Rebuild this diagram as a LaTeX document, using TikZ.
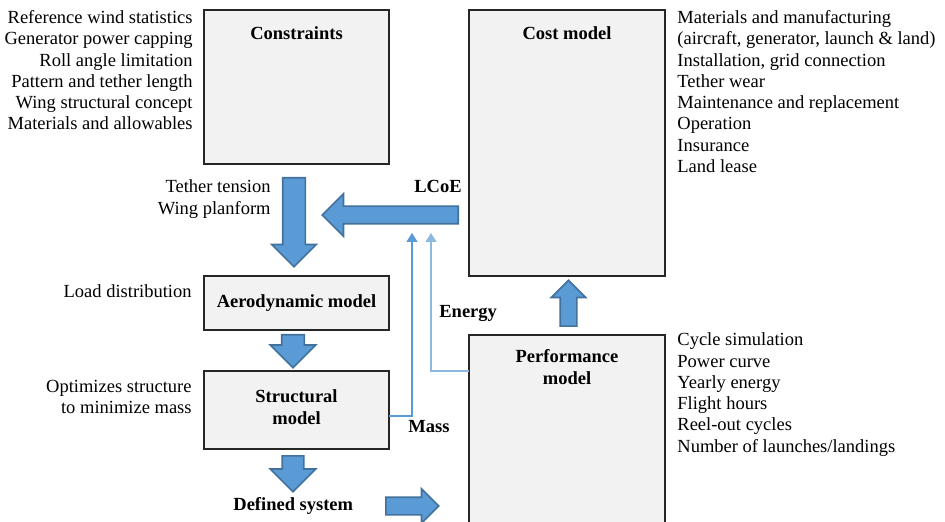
\documentclass[tikz,border=0pt]{standalone}
\usepackage{fontspec}
\setmainfont{Liberation Serif}
\usetikzlibrary{arrows.meta, positioning, shapes.arrows}
\definecolor{boxfill}{RGB}{242, 242, 242}
\definecolor{flowblue}{RGB}{91, 155, 213}
\definecolor{flowedge}{RGB}{65, 113, 156}
\definecolor{paleblue}{RGB}{140, 184, 226}
\tikzset{
  modelbox/.style={
    draw=black!85, fill=boxfill, rectangle,
    inner sep=0pt, line width=0.7pt
  },
  boxtitle/.style={
    inner sep=0pt, align=center,
    font=\fontsize{9.25}{10.65}\selectfont\bfseries
  },
  notes/.style={
    inner sep=0pt, font=\fontsize{9.25}{10.65}\selectfont
  },
  flowarrow/.style={
    single arrow, draw=flowedge, fill=flowblue, line width=0.8pt,
    inner xsep=0pt, anchor=tail
  },
  feedback/.style={
    -{Triangle[width=5.5pt, length=4.5pt]}, line width=0.7pt
  }
}

\begin{document}
\begin{tikzpicture}[x=0.5pt, y=-0.5pt]
  \useasboundingbox (0,0) rectangle (945,522);

  % model boxes
  \node[modelbox, minimum width=92.5pt, minimum height=77pt] (constraints) at (296.5,87) {};
  \node[modelbox, minimum width=98pt, minimum height=133pt] (cost) at (567,143) {};
  \node[modelbox, minimum width=92.5pt, minimum height=27pt] (aero) at (296.5,303) {};
  \node[modelbox, minimum width=92.5pt, minimum height=39pt] (structural) at (296.5,410) {};
  \node[modelbox, minimum width=98pt, minimum height=105pt] (performance) at (567,440) {};

  % box titles
  \node[boxtitle, anchor=base] (constraintstitle) at (296.5,40) {Constraints};
  \node[boxtitle, anchor=base] (costtitle) at (567,40) {Cost model};
  \node[boxtitle] (aerotitle) at (aero) {Aerodynamic model};
  \node[boxtitle, anchor=north] (structtitle) at (296.5,389.5) {Structural\\model};
  \node[boxtitle, anchor=north] (perftitle) at (567,349.5) {Performance\\model};

  % side notes
  \node[notes, align=right, anchor=north east] (constraintnotes) at (193,10) {Reference wind statistics\\Generator power capping\\Roll angle limitation\\Pattern and tether length\\Wing structural concept\\Materials and allowables};
  \node[notes, align=left, anchor=north west] (costnotes) at (677,10) {Materials and manufacturing\\(aircraft, generator, launch \& land)\\Installation, grid connection\\Tether wear\\Maintenance and replacement\\Operation\\Insurance\\Land lease};
  \node[notes, align=left, anchor=north west] (perfnotes) at (677,332.5) {Cycle simulation\\Power curve\\Yearly energy\\Flight hours\\Reel-out cycles\\Number of launches/landings};
  \node[notes, align=right, anchor=north east] (tethernotes) at (271,179.5) {Tether tension\\Wing planform};
  \node[notes, anchor=base east] (loadnote) at (192,298) {Load distribution};
  \node[notes, align=right, anchor=north east] (structnotes) at (192,379.5) {Optimizes structure\\to minimize mass};

  % block arrows between models
  \node[flowarrow, rotate=-90, inner ysep=5.25pt, single arrow head extend=5.5pt, minimum height=44.5pt] (constraintsflow) at (294,177) {};
  \node[flowarrow, rotate=180, inner ysep=4pt, single arrow head extend=6.25pt, minimum height=68pt] (lcoeflow) at (459,215) {};
  \node[flowarrow, rotate=-90, inner ysep=5.25pt, single arrow head extend=5.75pt, minimum height=16.5pt] (aeroflow) at (293,334) {};
  \node[flowarrow, rotate=-90, inner ysep=5pt, single arrow head extend=6pt, minimum height=18pt] (structflow) at (293,455) {};
  \node[flowarrow, inner ysep=4pt, single arrow head extend=4.25pt, minimum height=26.5pt] (systemflow) at (385,506) {};
  \node[flowarrow, rotate=90, inner ysep=3.75pt, single arrow head extend=4.5pt, minimum height=23pt] (perfflow) at (568.5,327) {};

  % arrow labels
  \node[boxtitle, anchor=base east] (lcoelabel) at (462,193) {LCoE};
  \node[boxtitle, anchor=base west] (energylabel) at (439,318) {Energy};
  \node[boxtitle, anchor=base west] (masslabel) at (408,432) {Mass};
  \node[boxtitle, anchor=base west] (systemlabel) at (233,510) {Defined system};

  % mass and energy fed back to the cost model
  \coordinate (massout) at (389,416);
  \coordinate (masstip) at (412,233);
  \coordinate (energyout) at (469,371);
  \coordinate (energytip) at (431,233);
  \draw[feedback, flowblue] (massout) -| (masstip);
  \draw[feedback, paleblue] (energyout) -| (energytip);
\end{tikzpicture}
\end{document}
